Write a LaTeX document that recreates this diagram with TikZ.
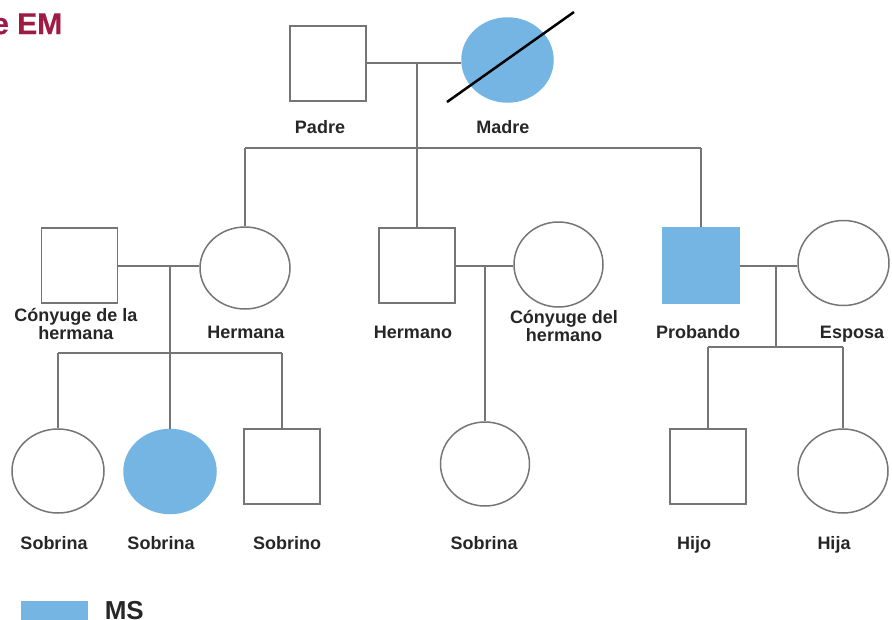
\documentclass[tikz,border=0pt]{standalone}
\usepackage{fontspec}
\setmainfont{Liberation Sans}
\newfontfamily\ttlfont[BoldFeatures={FakeBold=0.5}]{Liberation Sans}
\usetikzlibrary{shapes.geometric}
\definecolor{msblue}{HTML}{74B5E3}
\definecolor{lncol}{HTML}{757575}
\definecolor{ttlred}{HTML}{9E1B45}
\begin{document}
\begin{tikzpicture}[x=1pt,y=-1pt,
  line width=1.5pt,
  male/.style={draw=lncol,rectangle,minimum width=76pt,minimum height=75pt,inner sep=0pt},
  female/.style={draw=lncol,ellipse,minimum width=90pt,minimum height=84pt,inner sep=0pt},
  aff/.style={fill=msblue,draw=msblue},
  lbl/.style={font=\bfseries\fontsize{18}{13}\selectfont,text=black!85,align=center,inner sep=0pt,anchor=base},
  link/.style={draw=lncol,line width=1.5pt}]
\useasboundingbox (0,0) rectangle (892,619);
% title
\node[anchor=base east,text=ttlred,font=\ttlfont\bfseries\fontsize{30}{30}\selectfont,inner sep=0pt] (title) at (63,34) {e EM};
% generation I
\node[male] (padre) at (328,63.5) {};
\node[female,aff,minimum width=91pt,minimum height=84pt] (madre) at (507.5,60) {};
\coordinate (slA) at (447,102);
\coordinate (slB) at (574,12);
\draw[black,line width=2.5pt] (slA) -- (slB);
\node[lbl] (lpadre) at (320,133) {Padre};
\node[lbl] (lmadre) at (503,133) {Madre};
% generation II
\node[male] (conyA) at (79.5,265.5) {};
\node[female,minimum width=90pt,minimum height=82pt] (hermana) at (245,268) {};
\node[male] (hermano) at (417,265.5) {};
\node[female,minimum width=89pt,minimum height=85pt] (conyB) at (558.5,264.5) {};
\node[male,aff] (probando) at (701,265.5) {};
\node[female,minimum width=91pt,minimum height=85pt] (esposa) at (843.5,263) {};
\node[lbl] (lconyA) at (76,339) {Cónyuge de la\\hermana};
\node[lbl] (lhermana) at (246,338) {Hermana};
\node[lbl] (lhermano) at (413,338) {Hermano};
\node[lbl] (lconyB) at (564,341) {Cónyuge del\\hermano};
\node[lbl] (lprobando) at (698,338) {Probando};
\node[lbl] (lesposa) at (852,338) {Esposa};
% generation III
\node[female,minimum width=92pt,minimum height=84pt] (s1) at (58,471) {};
\node[female,aff,minimum width=92pt,minimum height=84pt] (s2) at (170,471.5) {};
\node[male] (s3) at (282,466.5) {};
\node[female,minimum width=89pt,minimum height=84pt] (s4) at (485,464) {};
\node[male] (hijo) at (708,466.5) {};
\node[female,minimum width=90pt,minimum height=84pt] (hija) at (843,471) {};
\node[lbl] (ls1) at (54,549) {Sobrina};
\node[lbl] (ls2) at (161,549) {Sobrina};
\node[lbl] (ls3) at (287,549) {Sobrino};
\node[lbl] (ls4) at (484,549) {Sobrina};
\node[lbl] (lhijo) at (694,549) {Hijo};
\node[lbl] (lhija) at (834,549) {Hija};
% legend
\node[rectangle,fill=msblue,minimum width=67pt,minimum height=19pt,inner sep=0pt] (legbox) at (54.5,610.5) {};
\node[lbl,anchor=base west,font=\bfseries\fontsize{26}{26}\selectfont] (legtxt) at (104,619) {MS};
% connectors generation I
\coordinate (pm) at (417,63);
\coordinate (sib) at (417,148);
\draw[link] (padre.east |- pm) -- (madre.west |- pm);
\draw[link] (pm) -- (sib);
\draw[link] (hermana.north |- sib) -- (probando.north |- sib);
\draw[link] (hermana.north |- sib) -- (hermana.north);
\draw[link] (sib) -- (hermano.north);
\draw[link] (probando.north |- sib) -- (probando.north);
% sister family
\coordinate (am) at (170,266);
\coordinate (abar) at (170,353);
\draw[link] (conyA.east |- am) -- (hermana.west |- am);
\draw[link] (am) -- (s2.north);
\draw[link] (s1.north |- abar) -- (s3.north |- abar);
\draw[link] (s1.north |- abar) -- (s1.north);
\draw[link] (s3.north |- abar) -- (s3.north);
% brother family
\coordinate (bm) at (485,266);
\draw[link] (hermano.east |- bm) -- (conyB.west |- bm);
\draw[link] (bm) -- (s4.north);
% proband family
\coordinate (cm) at (776,266);
\coordinate (cbar) at (776,347);
\draw[link] (probando.east |- cm) -- (esposa.west |- cm);
\draw[link] (cm) -- (cbar);
\draw[link] (hijo.north |- cbar) -- (hija.north |- cbar);
\draw[link] (hijo.north |- cbar) -- (hijo.north);
\draw[link] (hija.north |- cbar) -- (hija.north);
\end{tikzpicture}
\end{document}
